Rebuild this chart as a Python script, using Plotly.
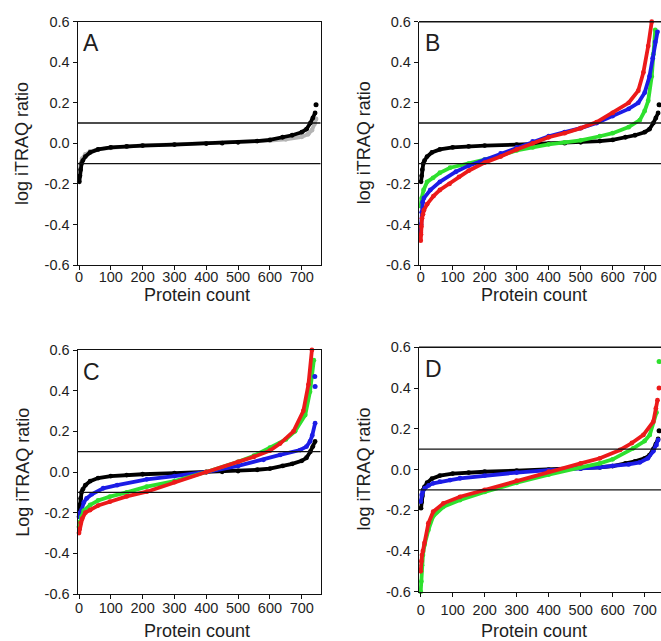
import plotly.graph_objects as go

# ---------------- data ----------------
X_TICKS = [0, 100, 200, 300, 400, 500, 600, 700]
X_TICK_TEXT = ["0", "100", "200", "300", "400", "500", "600", "700"]
Y_TICKS = [-0.6, -0.4, -0.2, 0.0, 0.2, 0.4, 0.6]
Y_TICK_TEXT = ["-0.6", "-0.4", "-0.2", "0.0", "0.2", "0.4", "0.6"]
THRESHOLDS = [0.1, -0.1]
PANEL_LETTERS = ["A", "B", "C", "D"]
X_TITLE = "Protein count"
Y_TITLES = ["log iTRAQ ratio", "log iTRAQ ratio", "Log iTRAQ ratio", "log iTRAQ ratio"]

# black (control) series, shown in every panel
BLACK_X = [1, 3, 5, 8, 12, 20, 35, 60, 100, 150, 200, 300, 400, 450, 500, 560, 600, 640, 670, 700, 715, 727, 735, 742]
BLACK_Y = [-0.19, -0.16, -0.13, -0.10, -0.085, -0.065, -0.045, -0.03, -0.02, -0.015, -0.011, -0.006, -0.001, 0.001,
           0.005, 0.011, 0.017, 0.03, 0.04, 0.055, 0.07, 0.10, 0.125, 0.15]

# panel A
A_GRAY_X = [2, 5, 10, 20, 35, 60, 100, 150, 200, 300, 400, 500, 600, 650, 700, 720, 732, 740, 745]
A_GRAY_Y = [-0.14, -0.10, -0.075, -0.055, -0.04, -0.03, -0.022, -0.015, -0.01, -0.005, 0.0, 0.006, 0.014, 0.02,
            0.032, 0.045, 0.065, 0.095, 0.12]

# panel B
B_GREEN_X = [0, 3, 9, 20, 39, 60, 92, 150, 200, 250, 300, 350, 400, 450, 500, 560, 600, 650, 685, 700, 711, 722, 727, 733]
B_GREEN_Y = [-0.31, -0.27, -0.23, -0.19, -0.17, -0.145, -0.12, -0.10, -0.08, -0.06, -0.035, -0.02, -0.005, 0.005,
             0.015, 0.035, 0.05, 0.08, 0.115, 0.16, 0.21, 0.33, 0.44, 0.56]
B_BLUE_X = [0, 1, 3, 6, 10, 30, 60, 110, 150, 200, 250, 300, 350, 400, 450, 500, 550, 600, 650, 680, 700, 715, 725, 733, 740]
B_BLUE_Y = [-0.44, -0.40, -0.34, -0.29, -0.27, -0.23, -0.19, -0.14, -0.11, -0.08, -0.05, -0.02, 0.01, 0.035, 0.055,
            0.075, 0.10, 0.135, 0.17, 0.20, 0.25, 0.33, 0.42, 0.50, 0.55]
B_RED_X = [0, 1, 2, 4, 7, 10, 20, 40, 60, 90, 120, 150, 200, 250, 300, 350, 400, 450, 500, 550, 600, 650, 680, 696, 711, 722]
B_RED_Y = [-0.48, -0.45, -0.41, -0.37, -0.35, -0.33, -0.30, -0.26, -0.23, -0.20, -0.165, -0.135, -0.095, -0.065, -0.03,
           0.0, 0.03, 0.05, 0.075, 0.105, 0.15, 0.20, 0.26, 0.35, 0.48, 0.60]

# panel C
C_BLUE_X = [0, 3, 8, 15, 24, 40, 76, 120, 213, 300, 400, 500, 580, 632, 695, 715, 726, 733, 742]
C_BLUE_Y = [-0.22, -0.20, -0.187, -0.15, -0.13, -0.11, -0.08, -0.065, -0.036, -0.02, 0.0, 0.03, 0.06, 0.084, 0.108,
            0.125, 0.15, 0.18, 0.24]
C_GREEN_X = [0, 3, 8, 15, 35, 60, 97, 150, 213, 300, 400, 500, 550, 600, 650, 679, 711, 726, 738]
C_GREEN_Y = [-0.27, -0.245, -0.22, -0.19, -0.162, -0.14, -0.121, -0.10, -0.072, -0.045, 0.0, 0.05, 0.08, 0.12, 0.16,
             0.20, 0.28, 0.395, 0.55]
C_RED_X = [0, 2, 5, 10, 20, 35, 60, 97, 150, 213, 300, 400, 500, 550, 600, 632, 674, 705, 721, 732]
C_RED_Y = [-0.30, -0.28, -0.25, -0.23, -0.20, -0.187, -0.165, -0.146, -0.12, -0.097, -0.05, 0.0, 0.05, 0.075, 0.105,
           0.14, 0.20, 0.30, 0.43, 0.60]

# panel D
D_BLUE_X = [0, 3, 6, 13, 25, 39, 60, 92, 123, 200, 300, 400, 500, 560, 600, 650, 685, 710, 727, 737, 742]
D_BLUE_Y = [-0.158, -0.125, -0.11, -0.092, -0.078, -0.068, -0.06, -0.052, -0.043, -0.03, -0.015, -0.003, 0.005, 0.01,
            0.018, 0.025, 0.035, 0.055, 0.09, 0.12, 0.145]
D_GREEN_X = [0, 2, 4, 7, 12, 24, 39, 71, 123, 200, 300, 400, 500, 560, 600, 664, 700, 716, 737]
D_GREEN_Y = [-0.60, -0.55, -0.47, -0.42, -0.37, -0.297, -0.23, -0.183, -0.15, -0.11, -0.065, -0.025, 0.01, 0.03, 0.05,
             0.104, 0.14, 0.17, 0.28]
D_RED_X = [0, 2, 4, 7, 12, 24, 39, 71, 123, 200, 300, 400, 500, 560, 623, 660, 696, 727, 735, 740]
D_RED_Y = [-0.50, -0.45, -0.42, -0.40, -0.36, -0.264, -0.207, -0.166, -0.134, -0.10, -0.055, -0.01, 0.03, 0.055,
           0.096, 0.13, 0.17, 0.235, 0.30, 0.34]

# isolated outlying points
OUTLIER_PANEL = ["A", "B", "C", "C", "D", "D", "D"]
OUTLIER_SERIES = ["black", "black", "blue", "blue", "black", "red", "green"]
OUTLIER_X = [745, 745, 741, 742, 745, 745, 745]
OUTLIER_Y = [0.19, 0.19, 0.47, 0.42, 0.19, 0.40, 0.53]

# ---------------- styling ----------------
W, H = 661, 641
FONT = "Liberation Sans, Arial, sans-serif"
TXT = "#1e1e1e"
COLORS = {"black": "#000000", "gray": "#b4b4b4", "blue": "#1c1ce6", "green": "#2ee02e", "red": "#ec1a1a"}

# plot-area pixel boxes: (left, right, top, bottom), x range, tick-label shift, x-title offset
PANELS = {
    "A": dict(box=(77.7, 320.5, 21.7, 265.0), xr=[-4.1, 759], tls=-6, xto=29.5),
    "B": dict(box=(419.0, 661.0, 21.7, 265.0), xr=[-5.3, 751], tls=-6, xto=29.5),
    "C": dict(box=(77.7, 320.5, 350.0, 594.0), xr=[-4.1, 759], tls=-4, xto=36.5),
    "D": dict(box=(419.0, 661.0, 347.3, 591.7), xr=[-5.3, 751], tls=1, xto=39.0),
}

SERIES = {
    "A": [("gray", A_GRAY_X, A_GRAY_Y), ("black", BLACK_X, BLACK_Y)],
    "B": [("black", BLACK_X, BLACK_Y), ("green", B_GREEN_X, B_GREEN_Y), ("blue", B_BLUE_X, B_BLUE_Y),
          ("red", B_RED_X, B_RED_Y)],
    "C": [("black", BLACK_X, BLACK_Y), ("blue", C_BLUE_X, C_BLUE_Y), ("green", C_GREEN_X, C_GREEN_Y),
          ("red", C_RED_X, C_RED_Y)],
    "D": [("black", BLACK_X, BLACK_Y), ("blue", D_BLUE_X, D_BLUE_Y), ("green", D_GREEN_X, D_GREEN_Y),
          ("red", D_RED_X, D_RED_Y)],
}


def px(x):
    return x / W


def py(y):
    return 1 - y / H


fig = go.Figure()
shapes = []
annotations = []
layout = {}

for i, name in enumerate(PANEL_LETTERS):
    n = "" if i == 0 else str(i + 1)
    xa, ya = "x" + n, "y" + n
    cfg = PANELS[name]
    l, r, t, b = cfg["box"]
    mirror = name in ("A", "C")
    common = dict(showgrid=False, zeroline=False, showline=True, linecolor="#111", linewidth=1.4,
                  ticks="outside", ticklen=4, tickwidth=1.2, tickcolor="#111", mirror=mirror,
                  automargin=False, fixedrange=True,
                  tickfont=dict(family=FONT, size=14.5, color=TXT))
    layout["xaxis" + n] = dict(common, domain=[px(l), min(1.0, px(r))], range=cfg["xr"], anchor=ya,
                               tickvals=X_TICKS, ticktext=X_TICK_TEXT, ticklabelstandoff=cfg["tls"])
    layout["yaxis" + n] = dict(common, domain=[py(b), py(t)], range=[-0.6, 0.6], anchor=xa,
                               tickvals=Y_TICKS, ticktext=Y_TICK_TEXT)

    for color, xs, ys in SERIES[name]:
        fig.add_trace(go.Scatter(x=xs, y=ys, mode="lines+markers", xaxis=xa, yaxis=ya,
                                 line=dict(color=COLORS[color], width=3.8),
                                 marker=dict(color=COLORS[color], size=4.8),
                                 showlegend=False, hoverinfo="skip", cliponaxis=False))
    ox = [x for p, x in zip(OUTLIER_PANEL, OUTLIER_X) if p == name]
    oy = [y for p, y in zip(OUTLIER_PANEL, OUTLIER_Y) if p == name]
    oc = [COLORS[s] for p, s in zip(OUTLIER_PANEL, OUTLIER_SERIES) if p == name]
    if ox:
        fig.add_trace(go.Scatter(x=ox, y=oy, mode="markers", xaxis=xa, yaxis=ya,
                                 marker=dict(color=oc, size=5), showlegend=False, hoverinfo="skip"))

    for th in THRESHOLDS:
        shapes.append(dict(type="line", xref=xa + " domain", yref=ya, x0=0, x1=1, y0=th, y1=th,
                           line=dict(color="#111", width=1.4), layer="above"))
    if not mirror:
        shapes.append(dict(type="line", xref=xa + " domain", yref=ya + " domain", x0=0, x1=1, y0=1, y1=1,
                           line=dict(color="#111", width=1.4)))

    # panel letter
    annotations.append(dict(text=name, xref="paper", yref="paper", x=px(l + 3.5), y=py(t + 21.5),
                            xanchor="left", yanchor="middle", showarrow=False,
                            font=dict(family=FONT, size=23, color=TXT)))
    # x title
    annotations.append(dict(text=X_TITLE, xref="paper", yref="paper", x=px((l + (r if mirror else 653)) / 2 - 2),
                            y=py(b + cfg["xto"]), xanchor="center", yanchor="middle", showarrow=False,
                            font=dict(family=FONT, size=18, color=TXT)))
    # y title
    annotations.append(dict(text=Y_TITLES[i], xref="paper", yref="paper", x=px(l - 55), y=py((t + b) / 2),
                            xanchor="center", yanchor="middle", textangle=-90, showarrow=False,
                            font=dict(family=FONT, size=18, color=TXT)))

fig.update_layout(template="none", width=W, height=H, autosize=False, margin=dict(l=0, r=0, t=0, b=0, pad=0),
                  paper_bgcolor="white", plot_bgcolor="white", shapes=shapes, annotations=annotations,
                  **layout)

fig.write_html("out.html", config={"displayModeBar": False},
               post_script="document.body.style.margin='0px';document.body.style.overflow='hidden';")
